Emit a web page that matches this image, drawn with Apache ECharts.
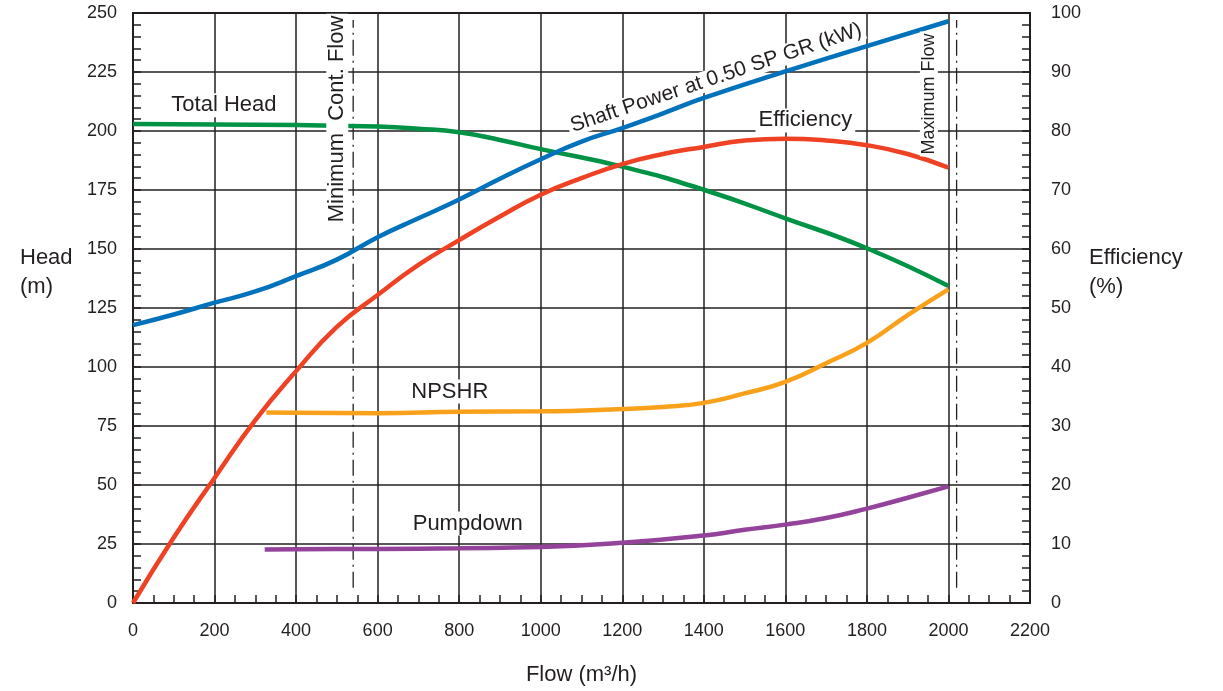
<!DOCTYPE html>
<html>
<head>
<meta charset="utf-8">
<script src="https://cdn.jsdelivr.net/npm/echarts@6/dist/echarts.min.js"></script>
<style>
  html, body { margin: 0; padding: 0; background: #fff; }
  #chart { width: 1223px; height: 691px; }
</style>
</head>
<body>
<div id="chart"></div>
<script>
// Pump performance curves: flow in m3/h
const headFlow   = [0, 200, 400, 600, 700, 800, 900, 1000, 1200, 1400, 1600, 1800, 2000];
const headValues = [203.0, 202.8, 202.5, 201.9, 201.0, 199.5, 196.2, 192.3, 184.9, 175.1, 163.0, 150.3, 134.3];

const powerFlow   = [0, 100, 200, 300, 400, 500, 600, 700, 800, 900, 1000, 1100, 1200, 1300, 1400, 1600, 1800, 2000];
const powerValues = [47.1, 48.9, 50.9, 52.8, 55.4, 58.2, 62.0, 65.2, 68.4, 71.9, 75.2, 78.2, 80.5, 83.0, 85.6, 90.1, 94.4, 98.6];

const effFlow   = [0, 100, 200, 300, 400, 500, 600, 700, 800, 900, 1000, 1100, 1200, 1300, 1400, 1500, 1600, 1700, 1800, 1900, 2000];
const effValues = [0, 11.1, 21.2, 31.0, 39.3, 46.8, 52.2, 57.3, 61.5, 65.5, 69.2, 72.0, 74.4, 76.1, 77.3, 78.4, 78.7, 78.4, 77.6, 76.1, 73.8];

const npshrFlow   = [327, 400, 600, 800, 1000, 1200, 1300, 1400, 1500, 1600, 1700, 1800, 1900, 2000];
const npshrValues = [80.7, 80.6, 80.4, 81.0, 81.2, 82.2, 83.1, 84.8, 88.8, 93.7, 101.6, 110.2, 122.0, 132.9];

const pumpFlow   = [323, 400, 600, 800, 1000, 1200, 1400, 1500, 1600, 1700, 1800, 1900, 2000];
const pumpValues = [22.7, 22.8, 22.9, 23.2, 23.7, 25.5, 28.6, 31.0, 33.2, 36.0, 40.0, 44.6, 49.4];

// Operating limits (flow) and the head span of their marker lines
const minContFlow = 540;
const maxFlow = 2020;
const limitSpan = [6.5, 247];

const INK = '#231f20';
const FONT = 'Liberation Sans, Arial, Helvetica, sans-serif';

const zip = (xs, ys) => xs.map((x, i) => [x, ys[i]]);

function tag(text, coord, opts) {
  opts = opts || {};
  return {
    symbol: 'rect',
    symbolSize: 0,
    silent: true,
    label: {
      show: true,
      position: 'inside',
      formatter: text,
      color: INK,
      fontFamily: FONT,
      fontSize: opts.fontSize || 22,
      rotate: opts.rotate || 0,
      backgroundColor: '#fff',
      padding: opts.padding || [1, 3]
    },
    data: [{ coord: coord }]
  };
}

function curve(name, data, color, yAxisIndex, markPoint) {
  return {
    name: name,
    type: 'line',
    yAxisIndex: yAxisIndex,
    data: data,
    showSymbol: false,
    symbol: 'none',
    smooth: 0.5,
    lineStyle: { color: color, width: 4.5, cap: 'butt' },
    itemStyle: { color: color },
    markPoint: markPoint,
    silent: true
  };
}

function limitLine(name, x, markPoint) {
  return {
    name: name,
    type: 'line',
    yAxisIndex: 0,
    data: [[x, limitSpan[0]], [x, limitSpan[1]]],
    symbol: 'none',
    lineStyle: { color: INK, width: 1.3, type: [16, 5, 2, 5] },
    markPoint: markPoint,
    silent: true,
    z: 1
  };
}

const plain = v => String(v);

// Two-line axis titles, lifted a little above the axis middle by a thin spacer line
const sideTitleStyle = {
  fontSize: 22, color: INK, align: 'left', verticalAlign: 'bottom',
  lineHeight: 29, fontFamily: FONT,
  rich: { gap: { fontSize: 1, lineHeight: 7 } }
};

const chart = echarts.init(document.getElementById('chart'), null, { renderer: 'canvas' });

chart.setOption({
  animation: false,
  backgroundColor: '#fff',
  textStyle: { fontFamily: FONT, color: INK },
  grid: {
    left: 133, right: 193, top: 13, bottom: 88,
    show: true, borderColor: INK, borderWidth: 2
  },
  xAxis: {
    type: 'value',
    min: 0, max: 2200, interval: 200,
    name: 'Flow (m³/h)',
    nameLocation: 'middle',
    nameGap: 61,
    nameTextStyle: { fontSize: 22, color: INK, fontFamily: FONT },
    axisLine: { show: true, lineStyle: { color: INK, width: 2 } },
    axisTick: { show: true, inside: true, length: 8, lineStyle: { color: INK, width: 1.5 } },
    minorTick: { show: true, splitNumber: 4, length: 8, lineStyle: { color: INK, width: 1.5 } },
    axisLabel: { fontSize: 18, color: INK, margin: 19, fontFamily: FONT, formatter: plain },
    splitLine: { show: true, lineStyle: { color: INK, width: 1.5 } }
  },
  yAxis: [
    {
      type: 'value',
      min: 0, max: 250, interval: 25,
      name: 'Head\n(m)\n{gap| }',
      nameLocation: 'middle',
      nameRotate: 0,
      nameGap: 113,
      nameTextStyle: sideTitleStyle,
      axisLine: { show: true, lineStyle: { color: INK, width: 2 } },
      axisTick: { show: true, inside: true, length: 8, lineStyle: { color: INK, width: 1.5 } },
      minorTick: { show: true, splitNumber: 5, length: 8, lineStyle: { color: INK, width: 1.5 } },
      axisLabel: { fontSize: 18, color: INK, margin: 16, fontFamily: FONT, formatter: plain },
      splitLine: { show: true, lineStyle: { color: INK, width: 1.5 } }
    },
    {
      type: 'value',
      position: 'right',
      min: 0, max: 100, interval: 10,
      name: 'Efficiency\n(%)\n{gap| }',
      nameLocation: 'middle',
      nameRotate: 0,
      nameGap: 59,
      nameTextStyle: sideTitleStyle,
      axisLine: { show: true, lineStyle: { color: INK, width: 2 } },
      axisTick: { show: true, inside: true, length: 8, lineStyle: { color: INK, width: 1.5 } },
      minorTick: { show: true, splitNumber: 5, length: 8, lineStyle: { color: INK, width: 1.5 } },
      axisLabel: { fontSize: 18, color: INK, margin: 21, fontFamily: FONT, formatter: plain },
      splitLine: { show: false }
    }
  ],
  series: [
    limitLine('Minimum Cont. Flow', minContFlow,
      tag('Minimum  Cont. Flow', [501, 205.1], { rotate: 90, padding: [0, 2] })),
    limitLine('Maximum Flow', maxFlow,
      tag('Maximum Flow', [1952, 215.7], { rotate: 90, fontSize: 18, padding: [0, 2] })),
    curve('Total Head', zip(headFlow, headValues), '#009245', 0,
      tag('Total Head', [223, 210.9])),
    curve('Shaft Power', zip(powerFlow, powerValues), '#0072bc', 1,
      tag('Shaft Power at 0.50 SP GR (kW)', [1430, 89.0], { rotate: 18.5, fontSize: 21, padding: [0, 3] })),
    curve('Efficiency', zip(effFlow, effValues), '#ef4123', 1,
      tag('Efficiency', [1649, 81.8])),
    curve('NPSHR', zip(npshrFlow, npshrValues), '#f9a11b', 0,
      tag('NPSHR', [777, 89.6])),
    curve('Pumpdown', zip(pumpFlow, pumpValues), '#93439a', 0,
      tag('Pumpdown', [821, 33.7]))
  ]
});
</script>
</body>
</html>
